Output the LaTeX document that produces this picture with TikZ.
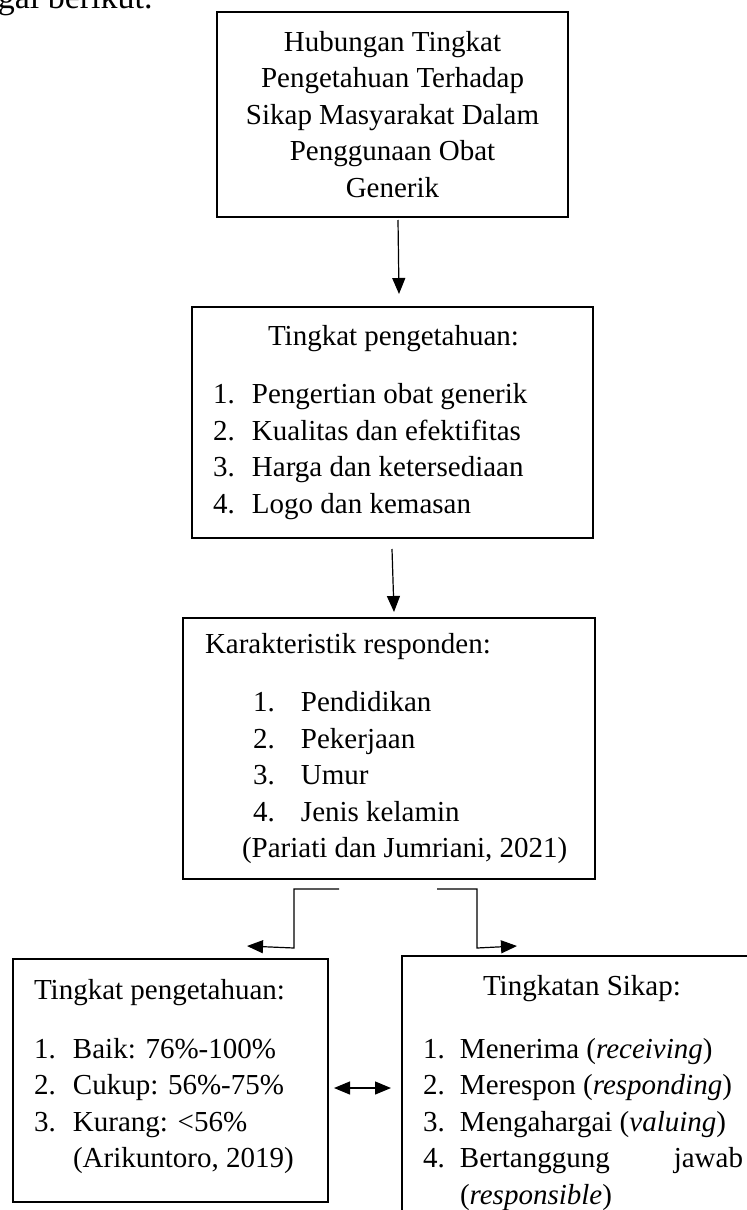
\documentclass[tikz,border=0pt]{standalone}
\usepackage{fontspec}
\setmainfont{Liberation Serif}
\usetikzlibrary{arrows.meta,calc}

\begin{document}
\begin{tikzpicture}[x=0.5pt,y=-0.5pt,>={Triangle[length=8pt,width=6.5pt]},
  box/.style={rectangle, draw, line width=1pt, inner ysep=0pt, font=\fontsize{14.5pt}{18.25pt}\selectfont},
  list/.style={box, align=flush left, inner xsep=10.5pt},
  link/.style={line width=0.6pt}]
\useasboundingbox (0,0) rectangle (747,1210);
\draw (153,9) node[anchor=base east, inner sep=0pt, font=\fontsize{17pt}{20pt}\selectfont] (intro) {sebagai berikut.};
\draw (392.5,114.5) node[box, align=flush center, minimum width=175.5pt, minimum height=102.5pt] (judul)
  {Hubungan Tingkat\\Pengetahuan Terhadap\\Sikap Masyarakat Dalam\\Penggunaan Obat\\Generik};
\draw (392.5,422.5) node[list, text width=179.5pt, minimum height=115.5pt] (tahu)
  {\hspace*{27.5pt}Tingkat pengetahuan:\\[11pt]
   \makebox[19.5pt][l]{1.}Pengertian obat generik\\
   \makebox[19.5pt][l]{2.}Kualitas dan efektifitas\\
   \makebox[19.5pt][l]{3.}Harga dan ketersediaan\\
   \makebox[19.5pt][l]{4.}Logo dan kemasan};
\draw (389,748.5) node[list, inner xsep=11pt, text width=184pt, minimum height=130.5pt] (resp)
  {Karakteristik responden:\\[11pt]
   \hspace*{24pt}\makebox[24pt][l]{1.}Pendidikan\\
   \hspace*{24pt}\makebox[24pt][l]{2.}Pekerjaan\\
   \hspace*{24pt}\makebox[24pt][l]{3.}Umur\\
   \hspace*{24pt}\makebox[24pt][l]{4.}Jenis kelamin\\
   \hspace*{18.5pt}(Pariati dan Jumriani, 2021)};
\draw (170.5,1080.5) node[list, text width=136.5pt, minimum height=121.5pt] (kat)
  {Tingkat pengetahuan:\\[11pt]
   \makebox[19.5pt][l]{1.}Baik: 76\%-100\%\\
   \makebox[19.5pt][l]{2.}Cukup: 56\%-75\%\\
   \makebox[19.5pt][l]{3.}Kurang: <56\%\\
   \hspace*{19.5pt}(Arikuntoro, 2019)\\[-11.5pt]\mbox{}};
\draw (583,1093) node[list, text width=160pt, minimum height=137pt] (sikap)
  {\hspace*{30pt}Tingkatan Sikap:\\[13pt]
   \makebox[18.5pt][l]{1.}Menerima (\textit{receiving})\\
   \makebox[18.5pt][l]{2.}Merespon (\textit{responding})\\
   \makebox[18.5pt][l]{3.}Mengahargai (\textit{valuing})\\
   \makebox[18.5pt][l]{4.}Bertanggung\hfill jawab\\
   \hspace*{18.5pt}(\textit{responsible})};
\draw [link, ->] ($(judul.south)+(5.5,2)$) -- ($(tahu.north)+(6.5,-12)$);
\draw [link, ->] ($(tahu.south)+(-0.5,10)$) -- ($(resp.north)+(5,-5)$);
\draw [link, ->] ($(resp.south)+(-50,9)$) -| ++(-45,59) -- ($(kat.north)+(76.5,-12)$);
\draw [link, ->] ($(resp.south)+(48,9)$) -| ++(40,59) -- ($(sikap.north)+(-66,-9)$);
\draw [link, <->] ($(kat.east)+(5,7.5)$) -- ($(sikap.west)+(-10,-5)$);
\end{tikzpicture}
\end{document}
